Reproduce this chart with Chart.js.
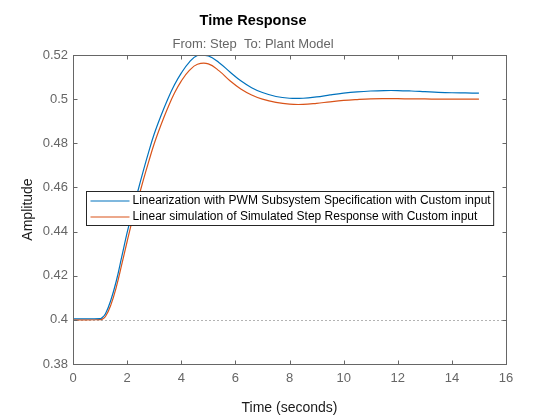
<!DOCTYPE html>
<html>
<head>
<meta charset="utf-8">
<title>Time Response</title>
<script src="https://cdn.jsdelivr.net/npm/chart.js@4.4.1/dist/chart.umd.min.js"></script>
<style>
  html, body { margin: 0; padding: 0; background: #fff; }
  canvas { display: block; }
</style>
</head>
<body>
<canvas id="chart" width="560" height="420"></canvas>
<script>
// time samples (seconds) and the two responses
var time = [0, 0.5, 1.0, 1.05, 1.2, 1.4, 1.6, 1.8, 2.0, 2.2, 2.4, 2.6, 2.8, 3.0, 3.25, 3.5, 3.75, 4.0, 4.3, 4.6, 5.0, 5.4, 5.8, 6.2, 6.6, 7.0, 7.5, 8.0, 8.5, 9.0, 9.5, 10, 10.5, 11, 11.5, 12, 12.5, 13, 13.5, 14, 14.5, 15];

var pwmLin = [0.4005, 0.4005, 0.4006, 0.4007, 0.4028, 0.4090, 0.4176, 0.4285, 0.4395, 0.4492, 0.4585, 0.4676, 0.4762, 0.4842, 0.4925, 0.5000, 0.5065, 0.5118, 0.5168, 0.5198, 0.5196, 0.5165, 0.5123, 0.5083, 0.5052, 0.5030, 0.5012, 0.5004, 0.5004, 0.5010, 0.5019, 0.5027, 0.5033, 0.5037, 0.5039, 0.5039, 0.5037, 0.5034, 0.5031, 0.5029, 0.5028, 0.5027];

var simStep = [0.4000, 0.4000, 0.4001, 0.4001, 0.4015, 0.4068, 0.4148, 0.4250, 0.4355, 0.4455, 0.4545, 0.4634, 0.4718, 0.4798, 0.4883, 0.4960, 0.5028, 0.5082, 0.5130, 0.5158, 0.5160, 0.5128, 0.5083, 0.5046, 0.5019, 0.5000, 0.4985, 0.4977, 0.4976, 0.4981, 0.4988, 0.4994, 0.4998, 0.5001, 0.5002, 0.5002, 0.5001, 0.5001, 0.5000, 0.5000, 0.5000, 0.5000];

var seriesNames = ["Linearization with PWM Subsystem Specification with Custom input",
                   "Linear simulation of Simulated Step Response with Custom input"];
var steadyLevel = 0.4;

var xTicks = [0, 2, 4, 6, 8, 10, 12, 14, 16];
var yTicks = [0.38, 0.4, 0.42, 0.44, 0.46, 0.48, 0.5, 0.52];

var FONT = '"Liberation Sans", Arial, Helvetica, sans-serif';
var AXIS_GRAY = '#666666';

function toPoints(xs, ys) {
  var pts = [];
  for (var i = 0; i < xs.length; i++) pts.push({ x: xs[i], y: ys[i] });
  return pts;
}

// MATLAB-ish frame: box, inward ticks, dotted steady-state line, legend
var matlabFrame = {
  id: 'matlabFrame',
  beforeDatasetsDraw: function(chart) {
    var ctx = chart.ctx, a = chart.chartArea, ys = chart.scales.y;
    var yp = ys.getPixelForValue(steadyLevel);
    ctx.save();
    ctx.strokeStyle = '#b3b3b3';
    ctx.lineWidth = 1;
    ctx.setLineDash([2, 2]);
    ctx.beginPath();
    ctx.moveTo(a.left, Math.round(yp) + 0.5);
    ctx.lineTo(a.right, Math.round(yp) + 0.5);
    ctx.stroke();
    ctx.restore();
  },
  afterDatasetsDraw: function(chart) {
    var ctx = chart.ctx, a = chart.chartArea;
    var xs = chart.scales.x, ys = chart.scales.y;
    var L = Math.round(a.left) + 0.5, R = Math.round(a.right) + 0.5;
    var T = Math.round(a.top) + 0.5, B = Math.round(a.bottom) + 0.5;
    var tl = 4;
    ctx.save();
    ctx.strokeStyle = AXIS_GRAY;
    ctx.lineWidth = 1;
    ctx.strokeRect(L, T, R - L, B - T);
    ctx.beginPath();
    xTicks.forEach(function(v) {
      var px = Math.round(xs.getPixelForValue(v)) + 0.5;
      ctx.moveTo(px, B); ctx.lineTo(px, B - tl);
      ctx.moveTo(px, T); ctx.lineTo(px, T + tl);
    });
    yTicks.forEach(function(v) {
      var py = Math.round(ys.getPixelForValue(v)) + 0.5;
      ctx.moveTo(L, py); ctx.lineTo(L + tl, py);
      ctx.moveTo(R, py); ctx.lineTo(R - tl, py);
    });
    ctx.stroke();

    // legend box
    ctx.font = '12px ' + FONT;
    var sets = chart.data.datasets.filter(function(d) { return d.label; });
    var maxW = 0;
    sets.forEach(function(d) { maxW = Math.max(maxW, ctx.measureText(d.label).width); });
    var bx = 86.5, by = 191.5, rowH = 16;
    var bw = 46 + maxW + 3, bh = 34;
    ctx.fillStyle = '#ffffff';
    ctx.fillRect(bx, by, bw, bh);
    ctx.strokeStyle = '#262626';
    ctx.strokeRect(bx, by, bw, bh);
    ctx.textBaseline = 'middle';
    ctx.textAlign = 'left';
    sets.forEach(function(d, i) {
      var cy = by + 9.5 + i * rowH;
      ctx.strokeStyle = d.borderColor;
      ctx.lineWidth = 1.2;
      ctx.beginPath();
      ctx.moveTo(bx + 4, cy); ctx.lineTo(bx + 43, cy);
      ctx.stroke();
      ctx.fillStyle = '#000000';
      ctx.fillText(d.label, bx + 46, cy);
    });
    ctx.restore();
  }
};

var ctx = document.getElementById('chart').getContext('2d');
var chart = new Chart(ctx, {
  type: 'line',
  data: {
    datasets: [
      {
        label: seriesNames[0],
        data: toPoints(time, pwmLin),
        borderColor: '#0072BD',
        borderWidth: 1.2,
        pointRadius: 0,
        fill: false,
        tension: 0.4
      },
      {
        label: seriesNames[1],
        data: toPoints(time, simStep),
        borderColor: '#D95319',
        borderWidth: 1.2,
        pointRadius: 0,
        fill: false,
        tension: 0.4
      }
    ]
  },
  options: {
    responsive: false,
    animation: false,
    layout: { padding: { left: 0, right: 54, top: 0, bottom: 0 } },
    plugins: {
      legend: { display: false },
      tooltip: { enabled: false },
      title: {
        display: true,
        text: 'Time Response',
        color: '#000000',
        font: { family: FONT, size: 14.5, weight: 'bold' },
        padding: { top: 12, bottom: 3 }
      },
      subtitle: {
        display: true,
        text: 'From: Step  To: Plant Model',
        color: AXIS_GRAY,
        font: { family: FONT, size: 13 },
        padding: { top: 4, bottom: 3 }
      }
    },
    scales: {
      x: {
        type: 'linear',
        min: 0,
        max: 16,
        afterFit: function(scale) { scale.height = 56; },
        afterBuildTicks: function(scale) {
          scale.ticks = xTicks.map(function(v) { return { value: v }; });
        },
        grid: { display: true, drawOnChartArea: false, drawTicks: false },
        border: { display: false },
        ticks: {
          color: AXIS_GRAY,
          padding: 7,
          maxRotation: 0,
          font: { family: FONT, size: 13 }
        },
        title: {
          display: true,
          text: 'Time (seconds)',
          color: '#1a1a1a',
          font: { family: FONT, size: 14 },
          padding: { top: 0, bottom: 3 }
        }
      },
      y: {
        type: 'linear',
        min: 0.38,
        max: 0.52,
        afterFit: function(scale) { scale.width = 73; },
        afterBuildTicks: function(scale) {
          scale.ticks = yTicks.map(function(v) { return { value: v }; });
        },
        grid: { display: true, drawOnChartArea: false, drawTicks: false },
        border: { display: false },
        ticks: {
          color: AXIS_GRAY,
          padding: 5,
          font: { family: FONT, size: 13 },
          callback: function(v) { return String(Number(v.toFixed(2))); }
        },
        title: {
          display: true,
          text: 'Amplitude',
          color: '#1a1a1a',
          font: { family: FONT, size: 14 },
          padding: { top: 20, bottom: 0 }
        }
      }
    }
  },
  plugins: [matlabFrame]
});
</script>
</body>
</html>
